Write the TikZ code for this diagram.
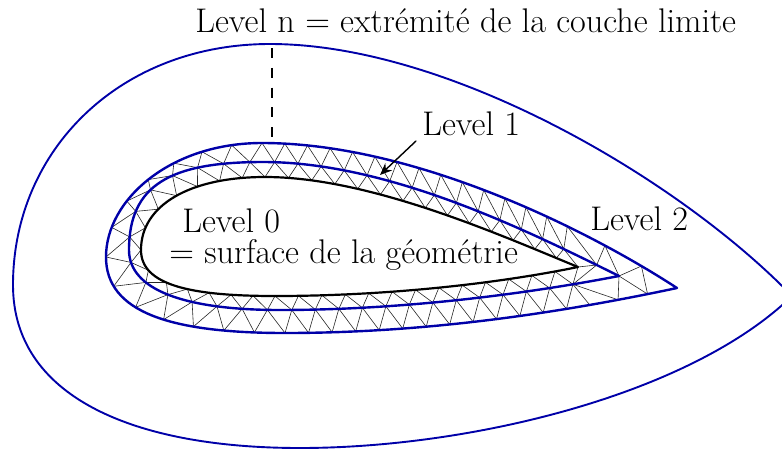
\documentclass[tikz,border=0pt]{standalone}
\usetikzlibrary{decorations.markings,arrows.meta}
\definecolor{levelblue}{rgb}{0,0,0.66}
\tikzset{
  outerline/.style={draw=levelblue,line width=0.95pt},
  levelline/.style={draw=levelblue,line width=1.2pt},
  wallline/.style={draw=black,line width=1.1pt},
  meshline/.style={draw=black!85,line width=0.3pt},
  label/.style={font=\fontsize{17.1}{17.1}\selectfont,inner sep=0pt,anchor=base west},
  ptmarks/.style n args={5}{decoration={markings,
    mark=between positions #3 and #3+(#5-1)*#4+0.0001 step #4 with
      {\pgfmathtruncatemacro{\idx}{\pgfkeysvalueof{/pgf/decoration/mark info/sequence number}+#2}
       \coordinate (#1\idx);}},
    postaction={decorate}}
}
\newcommand{\wallA}{(578,267) .. controls (500,235) and (370,177) .. (265,177)}
\newcommand{\wallB}{(265,177) .. controls (190,177) and (141,205) .. (141,250)}
\newcommand{\wallC}{(141,250) .. controls (141,285) and (190,296) .. (275,296)}
\newcommand{\wallD}{(275,296) .. controls (380,296) and (490,285) .. (578,267)}
\newcommand{\firstA}{(619,276) .. controls (530,232) and (390,162) .. (263,162)}
\newcommand{\firstB}{(263,162) .. controls (170,162) and (129,185) .. (129,250)}
\newcommand{\firstC}{(129,250) .. controls (129,290) and (185,310) .. (280,310)}
\newcommand{\firstD}{(280,310) .. controls (390,310) and (510,297) .. (619,276)}
\newcommand{\secondA}{(677,288) .. controls (580,225) and (410,143) .. (262,143)}
\newcommand{\secondB}{(262,143) .. controls (170,143) and (106,200) .. (106,257)}
\newcommand{\secondC}{(106,257) .. controls (106,312) and (170,333) .. (285,333)}
\newcommand{\secondD}{(285,333) .. controls (420,333) and (550,315) .. (677,288)}
\begin{document}
\begin{tikzpicture}[x=0.5pt,y=-0.5pt,line cap=round,line join=round]
  \useasboundingbox (0,0) rectangle (782,451);
  % mesh points
  \coordinate (f0) at (619,276);
  \path[ptmarks={w}{0}{0}{0.0714}{14}] \wallA;
  \path[ptmarks={w}{14}{0}{0.1429}{7}] \wallB;
  \path[ptmarks={w}{21}{0}{0.1429}{7}] \wallC;
  \path[ptmarks={w}{28}{0}{0.0769}{13}] \wallD;
  \path[ptmarks={f}{0}{0.163}{0.062}{14}] \firstA;
  \path[ptmarks={f}{14}{0.0714}{0.1429}{7}] \firstB;
  \path[ptmarks={f}{21}{0.0714}{0.1429}{7}] \firstC;
  \path[ptmarks={f}{28}{0.0345}{0.069}{13}] \firstD;
  \path[ptmarks={a}{0}{0.066}{0.066}{1}] \firstA;
  \path[ptmarks={s}{0}{0.283}{0.0512}{14}] \secondA;
  \path[ptmarks={s}{14}{0}{0.1429}{7}] \secondB;
  \path[ptmarks={s}{21}{0}{0.1429}{7}] \secondC;
  \path[ptmarks={s}{28}{0}{0.0596}{14}] \secondD;
  \path[ptmarks={e}{0}{0.094}{0.094}{2}] \secondA;
  \path[ptmarks={e}{2}{0.848}{0.076}{2}] \secondD;
  % mesh between the layers
  \foreach \i [remember=\i as \j (initially 41)] in {1,...,41} {
    \pgfmathtruncatemacro{\next}{\i+1}
    \draw[meshline] (w\i) -- (f\i) (w\i) -- (f\j) (f\i) -- (s\i) (f\i) -- (s\next);
  }
  % mesh at the tips
  \draw[meshline] (w1) -- (a1) (a1) -- (f41) (a1) -- (s1) (a1) -- (e2);
  \draw[meshline] (a1) -- (f0) (f0) -- (e1) (f0) -- (e2) (f0) -- (e3) (f0) -- (e4) (e1) -- (e4);
  \draw[meshline] (f41) -- (e3);
  % outer boundary
  \draw[outerline] (792,296) .. controls (680,180) and (450,44) .. (270,44)
    .. controls (120,44) and (13,150) .. (13,285)
    .. controls (13,395) and (130,448) .. (300,448)
    .. controls (470,448) and (690,395) .. (792,296);
  \draw[levelline] \firstA \firstB \firstC \firstD;
  \draw[levelline] \secondA \secondB \secondC \secondD;
  \draw[wallline] \wallA \wallB \wallC \wallD;
  % labels
  \node[label] (leveln) at (195,32) {Level n = extrémité de la couche limite};
  \node[label] (levelone) at (422,135) {Level 1};
  \node[label] (leveltwo) at (590,230) {Level 2};
  \node[label] (levelzero) at (182,232) {Level 0};
  \node[label] (surface) at (169,263) {= surface de la géométrie};
  \coordinate (dashtop) at (272,48);
  \coordinate (dashend) at (272,137);
  \coordinate (arrowtail) at (416,141);
  \coordinate (arrowhead) at (380,175);
  \draw[dash pattern=on 5pt off 4.9pt,line cap=butt,line width=0.8pt] (dashtop) -- (dashend);
  \draw[-{Stealth[length=6pt,width=5pt]},line width=0.7pt] (arrowtail) -- (arrowhead);
\end{tikzpicture}
\end{document}
